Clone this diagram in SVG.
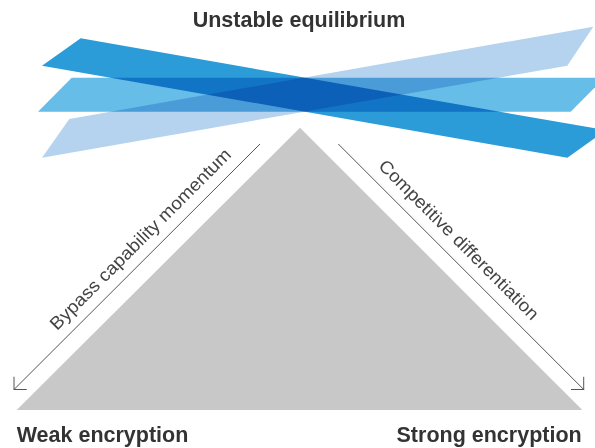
<svg xmlns="http://www.w3.org/2000/svg" width="595" height="448" viewBox="0 0 595 448">
  <style>
    .band { mix-blend-mode: multiply; }
    .title { font-family: "Liberation Sans", Arial, sans-serif; font-weight: bold; font-size: 21.5px; fill: #333333; }
    .axis { font-family: "Liberation Sans", Arial, sans-serif; font-size: 18px; fill: #444444; }
    .conn { stroke: #555555; stroke-width: 1; fill: none; }
  </style>
  <defs>
    <marker id="arrow" markerUnits="userSpaceOnUse" markerWidth="20" markerHeight="20" viewBox="-10 -10 20 20" refX="0" refY="0" orient="auto">
      <path d="M-9,-9 L0,0 L-9,9" fill="none" stroke="#555555" stroke-width="1"/>
    </marker>
  </defs>
  <rect width="595" height="448" fill="#ffffff"/>

  <g id="bands">
    <polygon class="band" points="80.7,38.3 42,65.7 567.3,157.7 606,130.3" fill="#2B9CD8"/>
    <polygon class="band" points="71.7,77.7 38,111.7 570.7,111.7 604.4,77.7" fill="#66BDE8"/>
    <polygon class="band" points="69.3,119 42,157.7 567.3,65.7 593.3,26.7" fill="#B5D3EE"/>
  </g>

  <g id="triangle">
    <polygon points="300,127.7 16.7,410 582.3,410" fill="#C8C8C8"/>
  </g>

  <g id="connectors">
    <line class="conn" x1="260" y1="144" x2="14" y2="389.5" marker-end="url(#arrow)"/>
    <line class="conn" x1="338.3" y1="144" x2="583.7" y2="389.5" marker-end="url(#arrow)"/>
  </g>

  <g id="label-bypass">
    <text class="axis" x="57" y="331" transform="rotate(-45 57 331)" textLength="248" lengthAdjust="spacingAndGlyphs">Bypass capability momentum</text>
  </g>
  <g id="label-competitive">
    <text class="axis" x="377.5" y="167" transform="rotate(45 377.5 167)" textLength="218" lengthAdjust="spacingAndGlyphs">Competitive differentiation</text>
  </g>

  <g id="node-unstable">
    <text class="title" x="299" y="26.7" text-anchor="middle">Unstable equilibrium</text>
  </g>
  <g id="node-weak">
    <text class="title" x="16.7" y="441.7">Weak encryption</text>
  </g>
  <g id="node-strong">
    <text class="title" x="581.7" y="441.7" text-anchor="end">Strong encryption</text>
  </g>
</svg>
